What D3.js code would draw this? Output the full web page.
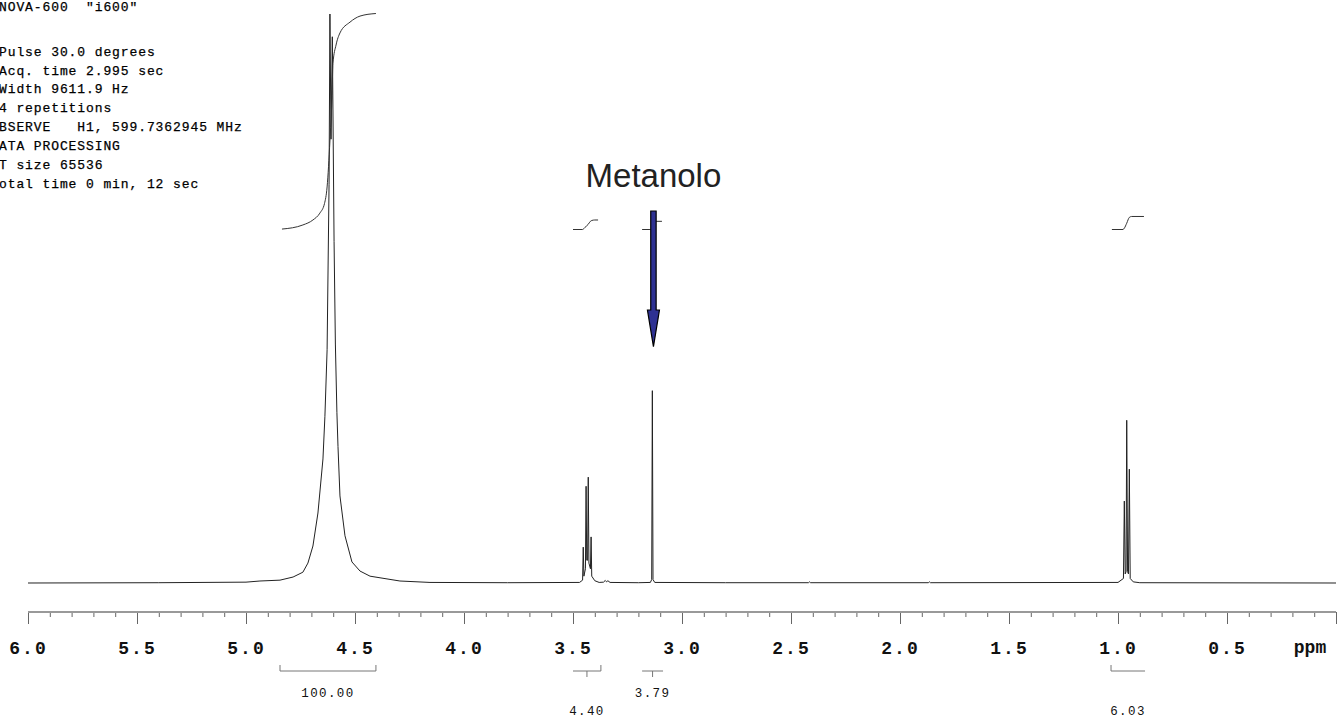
<!DOCTYPE html>
<html>
<head>
<meta charset="utf-8">
<script src="https://cdn.jsdelivr.net/npm/d3@7"></script>
<style>
  html, body { margin: 0; padding: 0; background: #fff; }
  svg { display: block; }
  text.pre { white-space: pre; }
</style>
</head>
<body>
<svg id="chart"></svg>
<script>
// 1H NMR spectrum (ppm vs intensity)
const headerTop = 'NOVA-600  "i600"';
const headerLines = [
  'Pulse 30.0 degrees',
  'Acq. time 2.995 sec',
  'Width 9611.9 Hz',
  '4 repetitions',
  'BSERVE   H1, 599.7362945 MHz',
  'ATA PROCESSING',
  'T size 65536',
  'otal time 0 min, 12 sec'
];

// spectrum trace: [ppm, intensity %]
const spectrum = [
  [6.00, 0], [5.40, 0.05], [5.00, 0.15], [4.936, 0.35], [4.844, 0.5], [4.784, 1.05],
  [4.739, 1.9], [4.716, 3.5], [4.693, 6.5], [4.670, 12.3], [4.647, 21.8], [4.638, 29.3],
  [4.628, 41], [4.619, 70], [4.615, 100], [4.610, 78], [4.604, 96], [4.596, 60],
  [4.590, 42], [4.583, 30], [4.578, 24], [4.569, 15.3], [4.546, 8.3], [4.514, 3.7],
  [4.477, 2.1], [4.431, 1.2], [4.294, 0.35], [4.156, 0.1], [3.80, 0.05],
  [3.470, 0.1], [3.456, 0.5], [3.453, 6.3], [3.450, 1.2], [3.443, 2.5], [3.440, 17.0],
  [3.437, 4], [3.433, 4], [3.430, 18.6], [3.427, 3.5], [3.420, 2.5], [3.417, 8.1],
  [3.414, 1.2], [3.40, 0.4], [3.38, 0.1], [3.36, 0.15], [3.352, 0.45], [3.346, 0.2],
  [3.340, 0.4], [3.33, 0.1], [3.20, 0.05],
  [3.145, 0.1], [3.139, 0.6], [3.136, 33.8], [3.133, 0.6], [3.125, 0.1],
  [2.80, 0.05], [2.42, 0.05], [2.415, 0.2], [2.41, 0.05], [1.87, 0.05], [1.865, 0.2], [1.86, 0.05],
  [1.00, 0.1], [0.975, 0.8], [0.971, 14.4], [0.967, 1.6], [0.963, 2.0], [0.960, 28.6],
  [0.956, 2.0], [0.952, 1.6], [0.948, 20.0], [0.944, 0.8], [0.93, 0.2], [0.90, 0.05], [0.0, 0]
];

// integral traces: [ppm, integral]
const intWater = [[4.835, 0.2], [4.739, 2.1], [4.693, 4.4], [4.661, 7.6], [4.640, 12], [4.628, 19.7],
  [4.615, 41], [4.606, 60], [4.601, 77], [4.587, 85.4], [4.569, 91], [4.523, 96], [4.477, 98.8], [4.404, 100]];
const intQuartet = [[3.500, 0], [3.456, 0], [3.445, 1.0], [3.431, 2.3], [3.420, 3.8], [3.413, 4.2], [3.40, 4.4], [3.385, 4.4]];
const intSinglet = [[3.183, 0], [3.147, 0], [3.139, 0.2], [3.136, 1.9], [3.133, 3.6], [3.128, 3.79], [3.092, 3.79]];
const intTriplet = [[1.028, 0], [0.977, 0], [0.971, 0.6], [0.960, 2.9], [0.948, 5.6], [0.938, 6.03], [0.881, 6.03]];

// integral regions and values printed under the axis
const intRegions = [[4.844, 4.404], [3.500, 3.372], [3.183, 3.087], [1.032, 0.876]];
const intLabels = ['100.00', '4.40', '3.79', '6.03'];
const intLabelRow = [0, 1, 0, 1];
const intCaps = [[1, 1, 0], [0, 1, 1], [0, 0, 1], [1, 0, 0]]; // left cap, right cap, centre tick

const majorTicks = [6.0, 5.5, 5.0, 4.5, 4.0, 3.5, 3.0, 2.5, 2.0, 1.5, 1.0, 0.5, 0.0];
const tickLabels = ['6.0', '5.5', '5.0', '4.5', '4.0', '3.5', '3.0', '2.5', '2.0', '1.5', '1.0', '0.5', ''];

const annotText = 'Metanolo';
const annotPpm = 3.131;

(function () {
  const width = 1344, height = 718;
  const svg = d3.select('#chart').attr('width', width).attr('height', height);
  svg.append('rect').attr('width', width).attr('height', height).attr('fill', '#fff');

  const x = d3.scaleLinear().domain([6.0, 0.0]).range([28, 1336]);
  const y = d3.scaleLinear().domain([0, 100]).range([583, 14]);
  const yInt = d3.scaleLinear().domain([0, 100]).range([229.5, 13.5]);

  const mono = '"Liberation Mono", "DejaVu Sans Mono", monospace';

  // header block (keep the repeated spaces)
  const hdr = svg.append('g').attr('font-family', mono).attr('font-size', 13)
    .attr('letter-spacing', 0.9).attr('fill', '#000')
    .attr('stroke', '#000').attr('stroke-width', 0.25);
  hdr.append('text').attr('class', 'pre').attr('xml:space', 'preserve')
    .attr('x', -1).attr('y', 10.5).text(headerTop);
  hdr.selectAll('text.line').data(headerLines).enter().append('text')
    .attr('class', 'line pre')
    .attr('xml:space', 'preserve')
    .attr('x', -1)
    .attr('y', (d, i) => 55.7 + i * 18.86)
    .text(d => d);

  // spectrum
  const line = d3.line().x(d => x(d[0])).y(d => y(d[1]));
  svg.append('path').datum(spectrum)
    .attr('d', line)
    .attr('fill', 'none')
    .attr('stroke', '#222')
    .attr('stroke-width', 1);

  // integrals
  const iline = d3.line().x(d => x(d[0])).y(d => yInt(d[1])).curve(d3.curveMonotoneX);
  svg.append('g').selectAll('path')
    .data([intWater, intQuartet, intSinglet, intTriplet])
    .enter().append('path')
    .attr('d', d => iline(d.slice().reverse()))
    .attr('fill', 'none')
    .attr('stroke', '#333')
    .attr('stroke-width', 1);

  // axis
  const axisY = 612;
  const ax = svg.append('g').attr('transform', `translate(0,${axisY})`);
  ax.append('g')
    .call(d3.axisBottom(x).ticks(60).tickSize(5).tickFormat(''))
    .call(g => g.select('.domain').remove())
    .call(g => g.selectAll('line').attr('stroke', '#666').attr('stroke-width', 1));
  ax.append('g')
    .call(d3.axisBottom(x).tickValues(majorTicks).tickSize(12).tickPadding(17)
      .tickFormat((d, i) => tickLabels[i]))
    .call(g => g.select('.domain').remove())
    .call(g => g.selectAll('line').attr('stroke', '#666').attr('stroke-width', 1))
    .call(g => g.selectAll('text')
      .attr('font-family', mono).attr('font-size', 18).attr('font-weight', 'bold')
      .attr('letter-spacing', 2).attr('fill', '#111'));
  ax.append('line')
    .attr('x1', x(6.0)).attr('x2', x(0.0))
    .attr('stroke', '#999').attr('stroke-width', 2);
  ax.append('text')
    .attr('x', x(0) - 26).attr('y', 41)
    .attr('text-anchor', 'middle')
    .attr('font-family', mono).attr('font-size', 18).attr('font-weight', 'bold')
    .attr('fill', '#111')
    .text('ppm');

  // integral brackets
  const bg = svg.append('g').attr('stroke', '#777').attr('stroke-width', 1).attr('fill', 'none');
  const by = 671;
  intRegions.forEach((r, i) => {
    const x0 = x(r[0]), x1 = x(r[1]), xm = (x0 + x1) / 2;
    bg.append('line').attr('x1', x0).attr('x2', x1).attr('y1', by).attr('y2', by);
    if (intCaps[i][0]) bg.append('line').attr('x1', x0).attr('x2', x0).attr('y1', by - 6).attr('y2', by);
    if (intCaps[i][1]) bg.append('line').attr('x1', x1).attr('x2', x1).attr('y1', by - 6).attr('y2', by);
    if (intCaps[i][2]) bg.append('line').attr('x1', xm).attr('x2', xm).attr('y1', by).attr('y2', by + 6);
    svg.append('text')
      .attr('x', xm).attr('y', intLabelRow[i] ? 715 : 696.7)
      .attr('text-anchor', 'middle')
      .attr('font-family', mono).attr('font-size', 12.5)
      .attr('letter-spacing', 1.4).attr('fill', '#111')
      .text(intLabels[i]);
  });

  // annotation arrow
  const axx = x(annotPpm);
  const top = 211, shaftEnd = 310, tip = 346.7, sw = 2.7, hw = 6;
  svg.append('path')
    .attr('d', `M${axx - sw},${top}L${axx + sw},${top}L${axx + sw},${shaftEnd}L${axx + hw},${shaftEnd}` +
      `L${axx},${tip}L${axx - hw},${shaftEnd}L${axx - sw},${shaftEnd}Z`)
    .attr('fill', '#2E3192')
    .attr('stroke', '#000')
    .attr('stroke-width', 1.2);
  svg.append('text')
    .attr('x', axx).attr('y', 186.7)
    .attr('text-anchor', 'middle')
    .attr('font-family', '"Liberation Sans", Arial, sans-serif')
    .attr('font-size', 33)
    .attr('fill', '#222')
    .text(annotText);
})();
</script>
</body>
</html>
